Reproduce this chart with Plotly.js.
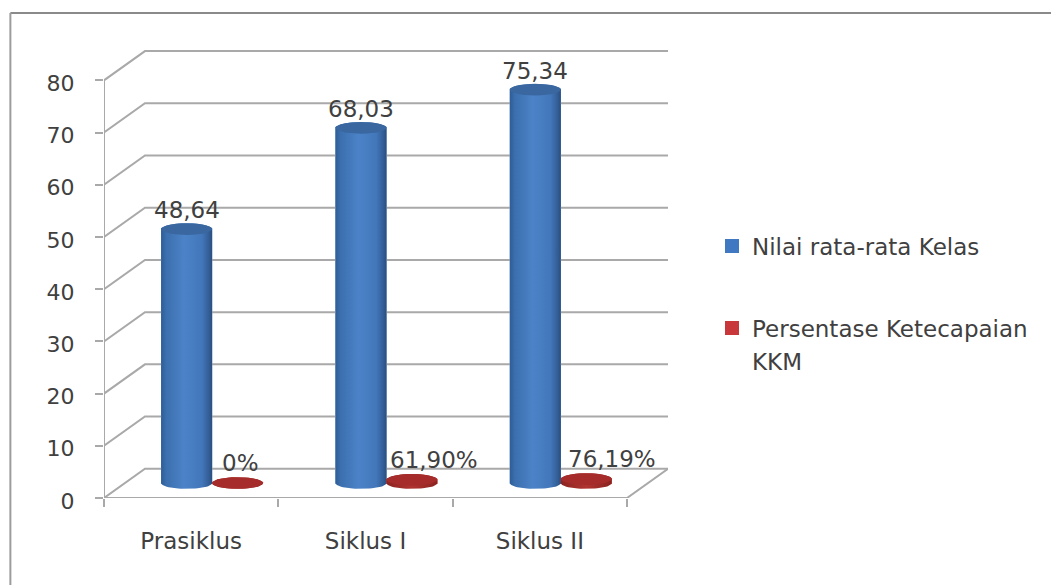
<!DOCTYPE html>
<html>
<head>
<meta charset="utf-8">
<script src="https://cdn.plot.ly/plotly-3.0.1.min.js"></script>
<style>html,body{margin:0;padding:0;background:#fff;}</style>
</head>
<body>
<div id="chart" style="width:1051px;height:585px;"></div>
<script>
// Chart content
var categories = ["Prasiklus", "Siklus I", "Siklus II"];
var classAverage = [48.64, 68.03, 75.34];
var kkmPercent = [0, 61.90, 76.19];
var averageName = "Nilai rata-rata Kelas";
var kkmName = "Persentase Ketecapaian";
var kkmNameSecondLine = "KKM";
var yTicks = [0, 10, 20, 30, 40, 50, 60, 70, 80];
var categoryEdges = [0, 1, 2, 3];

// Fake-3D geometry, in axis units
var wallDx = 0.235, wallDy = 5.6;    // front plane to back wall
var midDx = 0.12, midDy = 2.87;      // front plane to the plane the cylinders stand on
var halfWidth = 0.146;
var capRy = 1.12;
var gridColor = "#a9a9a9";
var textColor = "#404040";
var fontFamily = "DejaVu Sans, sans-serif";

// One outline for the cylinder body, one for its lid
function ellipseArc(cx, cy, from, to) {
  var xs = [], ys = [];
  for (var k = 0; k <= 28; k++) {
    var t = from + (to - from) * k / 28;
    xs.push(cx + halfWidth * Math.cos(t));
    ys.push(cy + capRy * Math.sin(t));
  }
  return {x: xs, y: ys};
}
function cylinderTraces(cx, value, sideStops, lidColor) {
  var top = value + midDy, bottom = midDy;
  var low = ellipseArc(cx, bottom, Math.PI, 2 * Math.PI);
  var high = ellipseArc(cx, top, 0, Math.PI);
  var lid = ellipseArc(cx, top, 0, 2 * Math.PI);
  return [{
    type: "scatter", mode: "lines", x: low.x.concat(high.x), y: low.y.concat(high.y),
    fill: "toself", line: {width: 0}, showlegend: false, hoverinfo: "skip",
    fillgradient: {type: "horizontal", colorscale: sideStops}
  }, {
    type: "scatter", mode: "lines", x: lid.x, y: lid.y,
    fill: "toself", fillcolor: lidColor, line: {width: 0}, showlegend: false, hoverinfo: "skip"
  }];
}

var blueSide = [[0, "#2f5d96"], [0.1, "#3b6fae"], [0.45, "#4c83c8"], [0.8, "#4277ba"], [0.93, "#345f98"], [1, "#2a4f80"]];
var redSide = [[0, "#8c2421"], [0.5, "#b03431"], [1, "#8a2320"]];
var blueLid = "#3a679f";
var redLid = "#a52c2a";

// Wall grid: a diagonal from the front axis, then a run along the back
var gridX = [], gridY = [];
yTicks.forEach(function (v) {
  gridX.push(0, wallDx, 3 + wallDx, null);
  gridY.push(v, v + wallDy, v + wallDy, null);
});
// Front axes and right edge of the floor
var frameX = [0, 0, null, 0, 3, 3 + wallDx];
var frameY = [80, 0, null, 0, 0, wallDy];

var traces = [
  {type: "bar", name: averageName, legendgroup: "a",
   x: categories.map(function (c, i) { return i + 0.5 + midDx - halfWidth; }),
   y: classAverage, base: midDy, width: 2 * halfWidth - 0.01,
   marker: {color: "#4178c2", line: {color: "#4178c2", width: 2}}, hoverinfo: "skip"},
  {type: "bar", name: kkmName, legendgroup: "b",
   x: categories.map(function (c, i) { return i + 0.5 + midDx + halfWidth; }),
   y: kkmPercent.map(function (p) { return p / 100; }), base: midDy, width: 2 * halfWidth - 0.01,
   marker: {color: "#c8383a", line: {color: "#c8383a", width: 2}}, hoverinfo: "skip"},
  {type: "scatter", mode: "lines", x: gridX, y: gridY, line: {color: gridColor, width: 2},
   showlegend: false, hoverinfo: "skip"},
  {type: "scatter", mode: "lines", x: frameX, y: frameY, line: {color: gridColor, width: 2},
   showlegend: false, hoverinfo: "skip"}
];
categories.forEach(function (c, i) {
  var centre = i + 0.5 + midDx;
  traces = traces.concat(cylinderTraces(centre - halfWidth, classAverage[i], blueSide, blueLid));
  traces = traces.concat(cylinderTraces(centre + halfWidth, kkmPercent[i] / 100, redSide, redLid));
});

function commaNumber(v) { return v.toFixed(2).replace(".", ","); }

var annotations = [];
var kkmLabelShift = [3, 22, 26];
categories.forEach(function (c, i) {
  var centre = i + 0.5 + midDx;
  annotations.push({
    x: centre - halfWidth, y: classAverage[i] + midDy + capRy, xref: "x", yref: "y",
    text: commaNumber(classAverage[i]), showarrow: false, yanchor: "bottom", yshift: -2,
    font: {family: fontFamily, size: 23, color: textColor}
  });
  annotations.push({
    x: centre + halfWidth, y: kkmPercent[i] / 100 + midDy + capRy, xref: "x", yref: "y",
    text: kkmPercent[i] === 0 ? "0%" : commaNumber(kkmPercent[i]) + "%",
    showarrow: false, yanchor: "bottom", xshift: kkmLabelShift[i], yshift: -1,
    font: {family: fontFamily, size: 23, color: textColor}
  });
});
// The legend's wrapped second line sits under the entry, swatch level with the first line
annotations.push({
  xref: "paper", yref: "paper", x: 1.145, y: 0.303, xanchor: "left", yanchor: "middle",
  text: kkmNameSecondLine, showarrow: false,
  font: {family: fontFamily, size: 23, color: textColor}
});

var layout = {
  width: 1051, height: 585,
  margin: {l: 104, r: 383, t: 49, b: 87, pad: 0},
  paper_bgcolor: "#fff", plot_bgcolor: "rgba(0,0,0,0)",
  barmode: "overlay",
  font: {family: fontFamily, color: textColor},
  xaxis: {
    range: [0, 3 + wallDx], showgrid: false, zeroline: false, showline: false,
    tickmode: "array", tickvals: [0.5, 1.5, 2.5], ticktext: categories, ticks: "",
    tickfont: {family: fontFamily, size: 23, color: textColor}, ticklabelstandoff: 27,
    minor: {tickmode: "array", tickvals: categoryEdges, ticks: "outside", ticklen: 8,
            tickwidth: 2, tickcolor: gridColor, showgrid: false}
  },
  yaxis: {
    range: [0, 86], showgrid: false, zeroline: false, showline: false,
    tickmode: "array", tickvals: yTicks, ticks: "outside", ticklen: 8, tickwidth: 2,
    tickcolor: gridColor, tickfont: {family: fontFamily, size: 22, color: textColor},
    ticklabelstandoff: 16, ticklabelshift: 3
  },
  legend: {
    x: 1.078, y: 0.609, xanchor: "left", yanchor: "top", traceorder: "grouped",
    tracegroupgap: 49, bgcolor: "rgba(0,0,0,0)", font: {family: fontFamily, size: 23, color: textColor},
    itemclick: false, itemdoubleclick: false
  },
  annotations: annotations,
  shapes: [
    {type: "line", xref: "paper", yref: "paper", x0: -0.166, x1: 1.7, y0: 1.08, y1: 1.08,
     line: {color: "#8a8a8a", width: 2}},
    {type: "line", xref: "paper", yref: "paper", x0: -0.166, x1: -0.166, y0: 1.08, y1: -0.2,
     line: {color: "#9c9c9c", width: 2}}
  ]
};

Plotly.newPlot("chart", traces, layout, {displayModeBar: false, staticPlot: true});
</script>
</body>
</html>
